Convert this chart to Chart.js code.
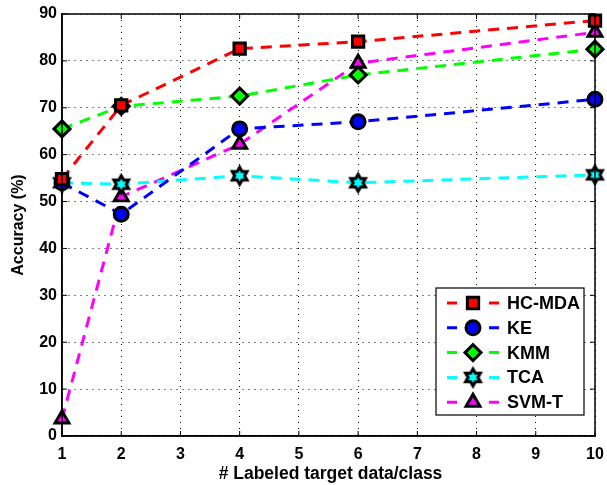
<!DOCTYPE html>
<html>
<head>
<meta charset="utf-8">
<script src="https://cdn.jsdelivr.net/npm/chart.js@4/dist/chart.umd.min.js"></script>
<style>
  html, body { margin: 0; padding: 0; background: #fff; }
  #wrap { width: 607px; height: 485px; }
</style>
</head>
<body>
<div id="wrap"><canvas id="chart" width="607" height="485"></canvas></div>
<script>
/* ── data ─────────────────────────────────────────── */
const xValues  = [1, 2, 4, 6, 10];
const hcMda    = [54.8, 70.5, 82.6, 84.1, 88.6];
const ke       = [54.0, 47.3, 65.5, 67.0, 71.8];
const kmm      = [65.5, 70.3, 72.5, 77.0, 82.5];
const tca      = [54.0, 53.7, 55.5, 54.0, 55.7];
const svmT     = [3.6, 51.0, 62.2, 79.5, 86.1];
const seriesNames = ["HC-MDA", "KE", "KMM", "TCA", "SVM-T"];
const yTicks   = [0, 10, 20, 30, 40, 50, 60, 70, 80, 90];
const xTicks   = [1, 2, 3, 4, 5, 6, 7, 8, 9, 10];
const yTitle   = "Accuracy (%)";
const xTitle   = "# Labeled target data/class";

const FONT = "'Liberation Sans', Arial, sans-serif";

// MATLAB style hexagram marker, drawn once to a small canvas
function hexagram(fill, r) {
  const c = document.createElement("canvas");
  const s = Math.ceil(r * 2 + 6);
  c.width = s; c.height = s;
  const g = c.getContext("2d");
  const cx = s / 2, cy = s / 2;
  g.beginPath();
  for (let i = 0; i < 12; i++) {
    const a = -Math.PI / 2 + i * Math.PI / 6;
    const rr = i % 2 === 0 ? r : r * 0.58;
    const px = cx + rr * Math.cos(a), py = cy + rr * Math.sin(a);
    i === 0 ? g.moveTo(px, py) : g.lineTo(px, py);
  }
  g.closePath();
  g.fillStyle = fill;
  g.fill();
  g.lineWidth = 3;
  g.strokeStyle = "#000";
  g.stroke();
  return c;
}

const styles = [
  { color: "#ff0000", point: "rect",     radius: 8 },
  { color: "#0000ff", point: "circle",   radius: 7 },
  { color: "#00ff00", point: "rectRot",  radius: 8 },
  { color: "#00ffff", point: hexagram("#00ffff", 8.5), radius: 9 },
  { color: "#ff00ff", point: "triangle", radius: 8 }
];
const values = [hcMda, ke, kmm, tca, svmT];

const datasets = values.map((vals, i) => ({
  label: seriesNames[i],
  data: vals.map((v, j) => ({ x: xValues[j], y: v })),
  borderColor: styles[i].color,
  borderWidth: 3,
  borderDash: [11, 8],
  pointStyle: styles[i].point,
  pointRadius: styles[i].radius,
  pointBackgroundColor: styles[i].color,
  pointBorderColor: "#000",
  pointBorderWidth: 3,
  clip: false,
  tension: 0
}));

/* ── frame, inward ticks, titles and legend box ───── */
const matlabFrame = {
  id: "matlabFrame",
  afterDraw(chart) {
    const { ctx, chartArea: a, scales } = chart;
    ctx.save();
    ctx.strokeStyle = "#000";
    ctx.lineWidth = 1.5;
    ctx.strokeRect(a.left, a.top, a.right - a.left, a.bottom - a.top);
    ctx.lineWidth = 1;
    xTicks.forEach(t => {
      const px = scales.x.getPixelForValue(t);
      ctx.beginPath();
      ctx.moveTo(px, a.bottom); ctx.lineTo(px, a.bottom - 5);
      ctx.moveTo(px, a.top); ctx.lineTo(px, a.top + 5);
      ctx.stroke();
    });
    yTicks.forEach(t => {
      const py = scales.y.getPixelForValue(t);
      ctx.beginPath();
      ctx.moveTo(a.left, py); ctx.lineTo(a.left + 5, py);
      ctx.moveTo(a.right, py); ctx.lineTo(a.right - 5, py);
      ctx.stroke();
    });

    // axis titles
    ctx.fillStyle = "#000";
    ctx.textAlign = "center";
    ctx.textBaseline = "middle";
    ctx.font = "bold 17.5px " + FONT;
    ctx.fillText(xTitle, (a.left + a.right) / 2 + 2, 474);
    ctx.save();
    ctx.translate(19, (a.top + a.bottom) / 2);
    ctx.rotate(-Math.PI / 2);
    ctx.font = "bold 16px " + FONT;
    ctx.fillText(yTitle, 0, 0);
    ctx.restore();

    // legend
    const bx = 436, by = 288, bw = 148, bh = 127;
    ctx.fillStyle = "#fff";
    ctx.fillRect(bx, by, bw, bh);
    ctx.lineWidth = 1.2;
    ctx.strokeRect(bx, by, bw, bh);
    const rowH = 24.8;
    chart.data.datasets.forEach((ds, i) => {
      const cy = by + 15 + i * rowH;
      ctx.strokeStyle = ds.borderColor;
      ctx.lineWidth = 3;
      ctx.setLineDash([]);
      ctx.beginPath();
      ctx.moveTo(bx + 11, cy); ctx.lineTo(bx + 21, cy);
      ctx.moveTo(bx + 53, cy); ctx.lineTo(bx + 63, cy);
      ctx.stroke();
      ctx.fillStyle = ds.pointBackgroundColor;
      ctx.strokeStyle = "#000";
      ctx.lineWidth = ds.pointBorderWidth;
      Chart.helpers.drawPoint(ctx, {
        pointStyle: ds.pointStyle, radius: ds.pointRadius, borderWidth: ds.pointBorderWidth, rotation: 0
      }, bx + 37, cy);
      ctx.fillStyle = "#000";
      ctx.font = "bold 18px " + FONT;
      ctx.textBaseline = "middle";
      ctx.textAlign = "left";
      ctx.fillText(ds.label, bx + 71, cy + 1);
    });
    ctx.restore();
  }
};

new Chart(document.getElementById("chart"), {
  type: "line",
  data: { datasets },
  options: {
    responsive: false,
    animation: false,
    layout: { padding: { top: 14, right: 10, left: 0, bottom: 0 } },
    plugins: { legend: { display: false }, tooltip: { enabled: false } },
    scales: {
      x: {
        type: "linear", min: 1, max: 10,
        afterBuildTicks: s => { s.ticks = xTicks.map(v => ({ value: v })); },
        afterFit: s => { s.height = 49; s.paddingLeft = 0; s.paddingRight = 0; },
        ticks: { color: "#000", font: { family: FONT, size: 16, weight: "bold" }, padding: 9, maxRotation: 0 },
        grid: { color: "#000", lineWidth: 1, tickLength: 0 },
        border: { display: true, color: "#000", width: 1.5, dash: [1, 5] },
        title: { display: false }
      },
      y: {
        min: 0, max: 90,
        afterBuildTicks: s => { s.ticks = yTicks.map(v => ({ value: v })); },
        afterFit: s => { s.width = 62; s.paddingTop = 0; s.paddingBottom = 0; },
        ticks: { color: "#000", font: { family: FONT, size: 16, weight: "bold" }, padding: 5 },
        grid: { color: "#000", lineWidth: 1, tickLength: 0 },
        border: { display: true, color: "#000", width: 1.5, dash: [1, 5] },
        title: { display: false }
      }
    }
  },
  plugins: [matlabFrame]
});
</script>
</body>
</html>
